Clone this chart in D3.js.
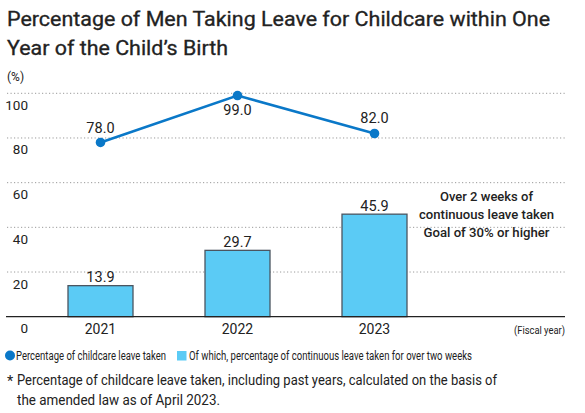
<!DOCTYPE html>
<html><head><meta charset="utf-8">
<script src="https://cdn.jsdelivr.net/npm/d3@7"></script>
<style>body{margin:0;background:#fff}svg{display:block}</style>
</head><body>
<script>
const years = ["2021", "2022", "2023"];
const leaveTaken = [78.0, 99.0, 82.0];
const continuousLeave = [13.9, 29.7, 45.9];
const yTicks = [0, 20, 40, 60, 80, 100];
const titleLines = ["Percentage of Men Taking Leave for Childcare within One", "Year of the Child\u2019s Birth"];
const noteLines = ["Over 2 weeks of", "continuous leave taken", "Goal of 30% or higher"];
const legendLabels = ["Percentage of childcare leave taken", "Of which, percentage of continuous leave taken for over two weeks"];
const footLines = ["Percentage of childcare leave taken, including past years, calculated on the basis of", "the amended law as of April 2023."];

const W = 585, H = 413;
const lineColor = "#0a78c8", barFill = "#5bcbf5", barStroke = "#4b5560", txt = "#222";
const svg = d3.select("body").append("svg").attr("width", W).attr("height", H);

const y = d3.scaleLinear().domain([0, 100]).range([316.7, 93.3]);
const x = d3.scalePoint().domain(years).range([100.5, 374.5]);
const barW = 65;
const font = "Roboto, 'Liberation Sans', Arial, sans-serif";

function fit(sel, len) {
  sel.attr("textLength", len).attr("lengthAdjust", "spacingAndGlyphs");
  return sel;
}

// title
const titleW = [543, 221];
titleLines.forEach((t, i) => {
  fit(svg.append("text").attr("x", 7).attr("y", 26 + i * 29)
    .attr("font-family", font).attr("font-size", 19.5).attr("font-weight", 400)
    .attr("stroke", txt).attr("stroke-width", 0.3)
    .attr("fill", txt).text(t), titleW[i]);
});

// (%)
svg.append("text").attr("x", 7).attr("y", 81).attr("font-family", font)
  .attr("font-size", 12).attr("fill", txt).text("(%)");

// gridlines
svg.append("g").selectAll("line").data(yTicks.filter(d => d > 0)).join("line")
  .attr("x1", 7).attr("x2", 565).attr("y1", d => y(d)).attr("y2", d => y(d))
  .attr("stroke", "#9a9a9a").attr("stroke-width", 1).attr("stroke-dasharray", "1.2,2.3");

// y tick labels
svg.append("g").selectAll("text").data(yTicks).join("text")
  .attr("x", 28).attr("y", d => y(d) + 16.5).attr("text-anchor", "end")
  .attr("font-family", font).attr("font-size", 13.5).attr("fill", txt).text(d => d);

// bars
svg.append("g").selectAll("rect").data(years).join("rect")
  .attr("x", d => x(d) - barW / 2).attr("width", barW)
  .attr("y", (d, i) => y(continuousLeave[i]))
  .attr("height", (d, i) => y(0) - y(continuousLeave[i]))
  .attr("fill", barFill).attr("stroke", barStroke).attr("stroke-width", 1.3);

// bar labels
svg.append("g").selectAll("text").data(years).join("text")
  .attr("x", d => x(d)).attr("y", (d, i) => y(continuousLeave[i]) - 3.5)
  .attr("text-anchor", "middle").attr("font-family", font).attr("font-size", 14.5)
  .attr("fill", txt).text((d, i) => continuousLeave[i].toFixed(1));

// baseline
svg.append("line").attr("x1", 6).attr("x2", 565).attr("y1", y(0)).attr("y2", y(0))
  .attr("stroke", "#222").attr("stroke-width", 1.2);

// x labels
svg.append("g").selectAll("text").data(years).join("text")
  .attr("x", d => x(d)).attr("y", 334).attr("text-anchor", "middle")
  .attr("font-family", font).attr("font-size", 14).attr("fill", txt).text(d => d);

fit(svg.append("text").attr("x", 514).attr("y", 334).attr("font-family", font)
  .attr("font-size", 11.5).attr("fill", txt).text("(Fiscal year)"), 51);

// line
const line = d3.line().x((d, i) => x(years[i])).y(d => y(d));
svg.append("path").datum(leaveTaken).attr("d", line).attr("fill", "none")
  .attr("stroke", lineColor).attr("stroke-width", 2.6);
svg.append("g").selectAll("circle").data(leaveTaken).join("circle")
  .attr("cx", (d, i) => x(years[i])).attr("cy", d => y(d)).attr("r", 4.8).attr("fill", lineColor);
const lblOff = [-9.5, 19, -10.5];
svg.append("g").selectAll("text").data(leaveTaken).join("text")
  .attr("x", (d, i) => x(years[i])).attr("y", (d, i) => y(d) + lblOff[i])
  .attr("text-anchor", "middle").attr("font-family", font).attr("font-size", 14.5)
  .attr("fill", txt).text(d => d.toFixed(1));

// annotation
const noteW = [93, 135, 126];
noteLines.forEach((t, i) => {
  fit(svg.append("text").attr("x", 486.5).attr("y", 200.5 + i * 18.3).attr("text-anchor", "middle")
    .attr("font-family", font).attr("font-size", 13).attr("font-weight", 500)
    .attr("fill", txt).text(t), noteW[i]);
});

// legend
svg.append("circle").attr("cx", 10).attr("cy", 355.5).attr("r", 5).attr("fill", lineColor);
fit(svg.append("text").attr("x", 16).attr("y", 360).attr("font-family", font)
  .attr("font-size", 12).attr("fill", txt).text(legendLabels[0]), 150);
svg.append("rect").attr("x", 177).attr("y", 351).attr("width", 9.5).attr("height", 9.5).attr("fill", barFill);
fit(svg.append("text").attr("x", 189).attr("y", 360).attr("font-family", font)
  .attr("font-size", 12).attr("fill", txt).text(legendLabels[1]), 283);

// footnote
svg.append("text").attr("x", 7).attr("y", 386).attr("font-family", font)
  .attr("font-size", 14.5).attr("fill", txt).text("*");
const footW = [480, 203];
footLines.forEach((t, i) => {
  fit(svg.append("text").attr("x", 17).attr("y", 385 + i * 20).attr("font-family", font)
    .attr("font-size", 14.5).attr("fill", txt).text(t), footW[i]);
});
</script>
</body></html>
